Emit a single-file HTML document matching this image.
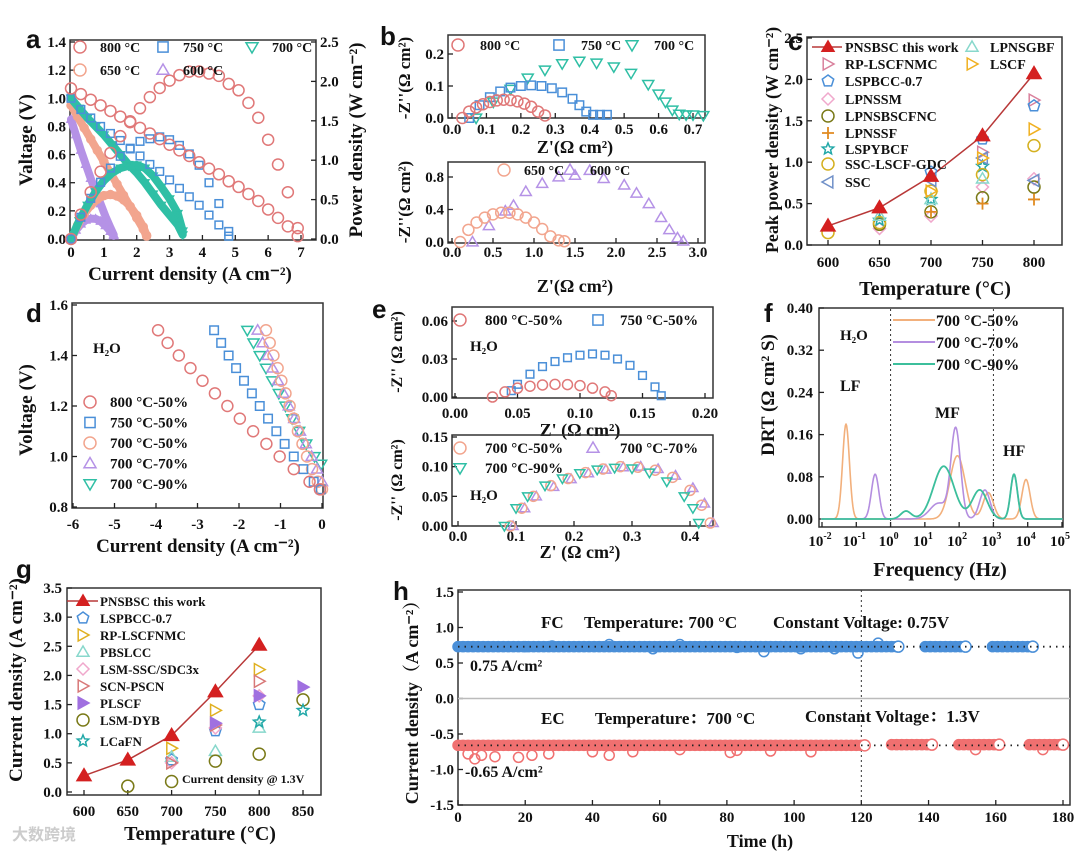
<!DOCTYPE html>
<html><head><meta charset="utf-8">
<style>
html,body{margin:0;padding:0;background:#fff;}
svg{display:block;font-family:"Liberation Serif",serif;font-weight:bold;}
</style></head>
<body>
<svg id="chart" width="1080" height="854" viewBox="0 0 1080 854" xmlns="http://www.w3.org/2000/svg"></svg>
<script>
// ---------- DATA ----------
// panel a
const aI800=[0,0.3,0.6,0.9,1.2,1.5,1.8,2.1,2.4,2.7,3.0,3.3,3.6,3.9,4.2,4.5,4.8,5.1,5.4,5.7,6.0,6.3,6.6,6.9];
const aV800=[1.07,1.03,0.99,0.95,0.91,0.87,0.83,0.79,0.75,0.71,0.67,0.63,0.59,0.545,0.5,0.46,0.41,0.37,0.32,0.27,0.21,0.15,0.09,0.02];
const aI750=[0,0.3,0.6,0.9,1.2,1.5,1.8,2.1,2.4,2.7,3.0,3.3,3.6,3.9,4.2,4.5,4.8];
const aV750=[1.0,0.92,0.86,0.8,0.75,0.7,0.64,0.59,0.53,0.48,0.42,0.36,0.3,0.24,0.17,0.1,0.02];
const aI700=[0,0.25,0.5,0.75,1.0,1.25,1.5,1.75,2.0,2.25,2.5,2.75,3.0,3.25,3.4];
const aV700=[1.0,0.93,0.86,0.8,0.74,0.67,0.6,0.53,0.47,0.4,0.32,0.24,0.17,0.1,0.03];
const aI650=[0,0.2,0.4,0.6,0.8,1.0,1.2,1.4,1.6,1.8,2.0,2.2,2.3];
const aV650=[0.95,0.87,0.79,0.71,0.63,0.55,0.47,0.39,0.31,0.23,0.15,0.07,0.02];
const aI600=[0,0.15,0.3,0.45,0.6,0.75,0.9,1.05,1.2,1.3];
const aV600=[0.85,0.74,0.63,0.53,0.43,0.34,0.25,0.16,0.08,0.03];
// panel b
const b800Re=[0.03,0.05,0.07,0.09,0.11,0.13,0.15,0.17,0.19,0.21,0.23,0.25,0.27];
const b800Im=[0,0.02,0.033,0.043,0.05,0.055,0.057,0.056,0.052,0.045,0.035,0.02,0.008];
const b750Re=[0.05,0.08,0.11,0.14,0.17,0.2,0.23,0.26,0.29,0.32,0.35,0.37,0.39,0.41,0.43,0.45];
const b750Im=[0,0.04,0.065,0.083,0.095,0.1,0.102,0.1,0.093,0.08,0.06,0.04,0.02,0.01,0.01,0.01];
const b700Re=[0.07,0.12,0.17,0.22,0.27,0.32,0.37,0.42,0.47,0.52,0.57,0.6,0.62,0.64,0.66,0.68,0.7,0.73];
const b700Im=[0,0.05,0.09,0.125,0.15,0.17,0.178,0.172,0.16,0.14,0.105,0.075,0.05,0.025,0.012,0.01,0.01,0.008];
const b650Re=[0.1,0.2,0.3,0.4,0.5,0.6,0.7,0.8,0.9,1.0,1.1,1.2,1.3,1.37];
const b650Im=[0,0.15,0.24,0.3,0.34,0.36,0.36,0.34,0.3,0.24,0.16,0.07,0.02,0.01];
const b600Re=[0.25,0.45,0.65,0.75,0.9,1.1,1.3,1.5,1.68,1.85,2.1,2.25,2.4,2.55,2.65,2.75,2.82];
const b600Im=[0,0.2,0.38,0.45,0.62,0.72,0.8,0.82,0.88,0.78,0.7,0.6,0.47,0.3,0.15,0.05,0.01];
// panel c
const cTemps=[600,650,700,750,800];
const cPNSBSC=[0.23,0.45,0.83,1.32,2.07];
const cRPT=[750,800], cRPV=[1.12,1.75];
const cLSPBCCT=[700,750,800], cLSPBCCV=[0.88,1.28,1.68];
const cLPNSSMT=[650,700,750,800], cLPNSSMV=[0.2,0.35,0.7,0.8];
const cLPNSBT=[650,700,750,800], cLPNSBV=[0.25,0.4,0.57,0.7];
const cLPNSSFT=[700,750,800], cLPNSSFV=[0.4,0.5,0.55];
const cLSPYT=[650,700,750], cLSPYV=[0.3,0.55,0.95];
const cSSCLT=[600,650,700,750,800], cSSCLV=[0.15,0.27,0.65,0.85,1.2];
const cSSCT=[700,750,800], cSSCV=[0.78,1.05,0.78];
const cGBFT=[650,700,750], cGBFV=[0.35,0.55,0.8];
const cLSCFT=[700,750,800], cLSCFV=[0.65,1.05,1.4];
// panel d
const dV=[1.5,1.45,1.4,1.35,1.3,1.25,1.2,1.15,1.1,1.05,1.0,0.95,0.9,0.87];
const dI800=[-3.95,-3.72,-3.45,-3.17,-2.88,-2.58,-2.28,-1.98,-1.66,-1.34,-1.02,-0.68,-0.3,-0.05];
const dI750=[-2.6,-2.43,-2.25,-2.07,-1.88,-1.69,-1.5,-1.3,-1.1,-0.9,-0.68,-0.45,-0.2,-0.03];
const dI700a=[-1.35,-1.26,-1.17,-1.07,-0.98,-0.88,-0.78,-0.68,-0.58,-0.47,-0.36,-0.24,-0.1,0];
const dV70=[1.5,1.45,1.4,1.35,1.3,1.25,1.2,1.15,1.1,1.05,1.0,0.95,0.9];
const dI700b=[-1.55,-1.43,-1.31,-1.19,-1.06,-0.93,-0.8,-0.67,-0.53,-0.39,-0.25,-0.12,0];
const dV90=[1.5,1.45,1.4,1.35,1.3,1.25,1.2,1.15,1.1,1.05,1.0,0.97];
const dI700c=[-1.8,-1.65,-1.5,-1.35,-1.2,-1.04,-0.88,-0.72,-0.55,-0.38,-0.18,-0.02];
// panel e
const e800Re=[0.03,0.04,0.05,0.06,0.07,0.08,0.09,0.1,0.11,0.12,0.125];
const e800Im=[0,0.004,0.007,0.0085,0.0095,0.01,0.0098,0.009,0.007,0.004,0.001];
const e750Re=[0.045,0.05,0.06,0.07,0.08,0.09,0.1,0.11,0.12,0.13,0.14,0.15,0.16,0.165];
const e750Im=[0.005,0.01,0.018,0.024,0.028,0.031,0.033,0.034,0.033,0.03,0.025,0.017,0.008,0.001];
const e50Re=[0.09,0.11,0.13,0.16,0.19,0.22,0.25,0.28,0.31,0.34,0.37,0.4,0.42,0.435];
const e50Im=[0,0.03,0.05,0.068,0.08,0.09,0.096,0.1,0.099,0.094,0.082,0.06,0.035,0.005];
const e70Re=[0.095,0.115,0.135,0.165,0.195,0.225,0.255,0.285,0.315,0.345,0.375,0.405,0.425,0.44];
const e70Im=[0,0.03,0.05,0.066,0.079,0.089,0.095,0.099,0.1,0.096,0.085,0.064,0.038,0.005];
const e90Re=[0.08,0.1,0.12,0.15,0.18,0.21,0.24,0.27,0.3,0.33,0.36,0.39,0.405,0.415];
const e90Im=[0,0.03,0.05,0.068,0.08,0.089,0.095,0.098,0.097,0.09,0.075,0.05,0.03,0.005];
// panel f (DRT peaks: log10 centre, height, width)
const f50C=[-1.3,1.95,2.85,3.95], f50H=[0.18,0.12,0.05,0.075], f50W=[0.1,0.22,0.15,0.12];
const f70C=[-0.45,1.9,1.4,2.75,3.6], f70H=[0.085,0.17,0.03,0.055,0.085], f70W=[0.11,0.14,0.25,0.15,0.1];
const f90C=[0.45,1.55,2.6,3.6], f90H=[0.015,0.1,0.055,0.085], f90W=[0.15,0.3,0.22,0.1];
// panel g
const gTemps=[600,650,700,750,800];
const gPNSBSC=[0.28,0.55,0.97,1.72,2.52];
const gLSPBT=[700,750,800], gLSPBV=[0.55,1.05,1.5];
const gRPT=[700,750,800], gRPV=[0.75,1.4,2.1];
const gPBST=[700,750,800], gPBSV=[0.6,0.7,1.1];
const gLSMT=[700,750,800], gLSMV=[0.5,1.1,1.65];
const gSCNT=[700,750,800], gSCNV=[0.5,1.15,1.9];
const gPLST=[750,800,850], gPLSV=[1.18,1.65,1.8];
const gDYBT=[650,700,750,800,850], gDYBV=[0.1,0.18,0.53,0.65,1.58];
const gLCaT=[800,850], gLCaV=[1.2,1.4];
// panel h
const hFcStart=[0,139,159], hFcEnd=[131,151,171], hFcLevel=[0.73,0.73,0.73];
const hEcStart=[0,129,149,170], hEcEnd=[121,141,161,180], hEcLevel=[-0.66,-0.65,-0.65,-0.65];
const hFcOutT=[20,28,45,58,66,83,91,102,112,119,125], hFcOutV=[0.73,0.74,0.76,0.7,0.76,0.72,0.66,0.7,0.7,0.64,0.78];
const hEcOutT=[3,5,7,11,18,22,27,40,45,52,66,81,83,93,105,154,174], hEcOutV=[-0.78,-0.85,-0.8,-0.82,-0.83,-0.8,-0.78,-0.75,-0.8,-0.75,-0.72,-0.76,-0.73,-0.74,-0.75,-0.72,-0.72];

// ---------- HELPERS ----------
const NS='http://www.w3.org/2000/svg';
const svg=document.getElementById('chart');
function add(tag,attrs,parent){const e=document.createElementNS(NS,tag);for(const k in attrs)e.setAttribute(k,attrs[k]);(parent||svg).appendChild(e);return e;}
function lin(d0,d1,p0,p1){return v=>p0+(v-d0)/(d1-d0)*(p1-p0);}
function grp(name){const g=add('g',{});


return g;}
function txt(x,y,s,size,anchor,parent,name,rot,fam){
const t=add('text',{x:x,y:y,'font-size':size,'text-anchor':anchor||'start',fill:'#111'},parent);
if(rot)t.setAttribute('transform','rotate(-90 '+x+' '+y+')');
if(fam)t.setAttribute('font-family',fam);
t.textContent=s;


return t;}
function frame(x0,y0,x1,y1,g){const r=add('rect',{x:x0,y:y0,width:x1-x0,height:y1-y0,fill:'none',stroke:'#333','stroke-width':1.5},g);

}
function ticksX(vals,labels,sx,yb,ly,g,size){vals.forEach((v,i)=>{add('line',{x1:sx(v),x2:sx(v),y1:yb,y2:yb-5,stroke:'#222','stroke-width':1.3},g);
if(labels[i]!==null)txt(sx(v),ly,labels[i],size||15,'middle',g,'x-tick-label');});}
function ticksY(vals,labels,sy,xb,lx,g,right,size){vals.forEach((v,i)=>{add('line',{x1:xb,x2:right?xb-5:xb+5,y1:sy(v),y2:sy(v),stroke:'#222','stroke-width':1.3},g);
txt(lx,sy(v)+5,labels[i],size||15,right?'start':'end',g,'y-tick-label');});}
function marker(shape,x,y,color,s,g,filled){
let e;const st={fill:filled?color:'none',stroke:color,'stroke-width':1.5};
if(shape==='circle')e=add('circle',Object.assign({cx:x,cy:y,r:s},st),g);
else if(shape==='square')e=add('rect',Object.assign({x:x-s*0.85,y:y-s*0.85,width:s*1.7,height:s*1.7},st),g);
else{let p=[];
if(shape==='tdown')p=[[x-s,y-s*0.7],[x+s,y-s*0.7],[x,y+s]];
else if(shape==='tup')p=[[x-s,y+s*0.7],[x+s,y+s*0.7],[x,y-s]];
else if(shape==='tright')p=[[x-s*0.8,y-s],[x+s,y],[x-s*0.8,y+s]];
else if(shape==='tleft')p=[[x+s*0.8,y-s],[x-s,y],[x+s*0.8,y+s]];
else if(shape==='diamond')p=[[x,y-s],[x+s,y],[x,y+s],[x-s,y]];
else if(shape==='pent'){for(let k=0;k<5;k++){const a=-Math.PI/2+k*2*Math.PI/5;p.push([x+s*Math.cos(a),y+s*Math.sin(a)]);}}
else if(shape==='star'){for(let k=0;k<10;k++){const a=-Math.PI/2+k*Math.PI/5;const r=k%2?s*0.45:s;p.push([x+r*Math.cos(a),y+r*Math.sin(a)]);}}
if(shape==='plus'){e=add('path',{d:`M${x-s} ${y}H${x+s}M${x} ${y-s}V${y+s}`,stroke:color,'stroke-width':1.8,fill:'none'},g);}
else e=add('polygon',Object.assign({points:p.map(q=>q.join(',')).join(' ')},st),g);}


return e;}
function series(xs,ys,sx,sy,shape,color,s,g,filled){xs.forEach((v,i)=>marker(shape,sx(v),sy(ys[i]),color,s,g,filled));}
function poly(xs,ys,sx,sy,color,w,g,dash,op){const l=add('polyline',{points:xs.map((v,i)=>sx(v)+','+sy(ys[i])).join(' '),fill:'none',stroke:color,'stroke-width':w,'stroke-linejoin':'round','stroke-linecap':'round'},g);
if(dash)l.setAttribute('stroke-dasharray',dash);if(op)l.setAttribute('opacity',op);

return l;}
function letter(x,y,s){txt(x,y,s,26,'start',svg,'panel-label-'+s,false,'"Liberation Sans",sans-serif');}
function rng(a,b,st){const r=[];for(let v=a;v<=b+1e-9;v+=st)r.push(+v.toFixed(4));return r;}
const C={r:'#e07878',b:'#4a8fd8',t:'#2fbfa5',s:'#f2a58e',p:'#b592e6'};

// ---------- PANEL A ----------
(function(){const g=grp('panel-a');
const sx=lin(0,7,71,301),sv=lin(0,1.4,239,42),sp=lin(0,2.5,239,42);
frame(70,40,316,240,g);
ticksX(rng(0,7,1),rng(0,7,1).map(String),sx,240,257,g);
ticksY(rng(0,1.4,0.2),rng(0,1.4,0.2).map(v=>v.toFixed(1)),sv,70,66,g);
ticksY(rng(0,2.5,0.5),rng(0,2.5,0.5).map(v=>v.toFixed(1)),sp,316,320,g,true);
const pw=(I,V)=>I.map((x,i)=>x*V[i]);
[[aI600,aV600,C.p,'tup'],[aI650,aV650,C.s,'circle'],[aI700,aV700,C.t,'tdown']].forEach(a=>{
 poly(a[0],a[1],sx,sv,a[2],8,g);poly(a[0],pw(a[0],a[1]),sx,sp,a[2],8,g);
 series(a[0],a[1],sx,sv,a[3],a[2],4,g);series(a[0],pw(a[0],a[1]),sx,sp,a[3],a[2],4,g);});
series(aI750,aV750,sx,sv,'square',C.b,4.5,g);series(aI750,pw(aI750,aV750),sx,sp,'square',C.b,4.5,g);
series(aI800,aV800,sx,sv,'circle',C.r,5.5,g);series(aI800,pw(aI800,aV800),sx,sp,'circle',C.r,5.5,g);
txt(32,140,'Valtage (V)',19,'middle',g,'y-axis-title',true);
txt(362,140,'Power density (W cm⁻²)',19,'middle',g,'y2-axis-title',true);
txt(190,280,'Current density (A cm⁻²)',19,'middle',g,'x-axis-title');
[[80,47,'circle',C.r,'800 °C'],[163,47,'square',C.b,'750 °C'],[252,47,'tdown',C.t,'700 °C'],[80,70,'circle',C.s,'650 °C'],[163,70,'tup',C.p,'600 °C']].forEach(l=>{marker(l[2],l[0],l[1],l[3],6,g);txt(l[0]+20,l[1]+5,l[4],14,'start',g,'legend-entry');});
})();
letter(26,48,'a');

// ---------- PANEL B ----------
(function(){const g=grp('panel-b-top');
const sx=lin(0,0.7,452,693),sy=lin(0,0.2,118,54);
frame(448,35,705,118,g);
ticksX(rng(0,0.7,0.1),rng(0,0.7,0.1).map(v=>v.toFixed(1)),sx,118,134,g);
ticksY([0,0.1,0.2],['0.0','0.1','0.2'],sy,448,444,g);
series(b700Re,b700Im,sx,sy,'tdown',C.t,5.5,g);
series(b750Re,b750Im,sx,sy,'square',C.b,5,g);
series(b800Re,b800Im,sx,sy,'circle',C.r,5.5,g);
txt(575,153,"Z'(Ω cm²)",18,'middle',g,'x-axis-title');
txt(410,78,"-Z''(Ω cm²)",17,'middle',g,'y-axis-title',true);
[[458,45,'circle',C.r,'800 °C'],[559,45,'square',C.b,'750 °C'],[632,45,'tdown',C.t,'700 °C']].forEach(l=>{marker(l[2],l[0],l[1],l[3],6,g);txt(l[0]+22,l[1]+5,l[4],14,'start',g,'legend-entry');});
const g2=grp('panel-b-bottom');
const sx2=lin(0,3,452,698),sy2=lin(0,0.8,242,177);
frame(448,162,705,243,g2);
ticksX(rng(0,3,0.5),rng(0,3,0.5).map(v=>v.toFixed(1)),sx2,243,257,g2);
ticksY([0,0.4,0.8],['0.0','0.4','0.8'],sy2,448,444,g2);
series(b600Re,b600Im,sx2,sy2,'tup',C.p,5.5,g2);
series(b650Re,b650Im,sx2,sy2,'circle',C.s,5.5,g2);
txt(575,292,"Z'(Ω cm²)",18,'middle',g2,'x-axis-title');
txt(410,202,"-Z''(Ω cm²)",17,'middle',g2,'y-axis-title',true);
[[504,170,'circle',C.s,'650 °C'],[570,170,'tup',C.p,'600 °C']].forEach(l=>{marker(l[2],l[0],l[1],l[3],6,g2);txt(l[0]+20,l[1]+5,l[4],14,'start',g2,'legend-entry');});
})();
letter(380,45,'b');

// ---------- PANEL C ----------
(function(){const g=grp('panel-c');
const sx=lin(600,800,828,1034),sy=lin(0,2.5,245,38);
frame(807,37,1062,245,g);
ticksX(cTemps,cTemps.map(String),sx,245,267,g);
ticksY(rng(0,2.5,0.5),rng(0,2.5,0.5).map(v=>v.toFixed(1)),sy,807,803,g);
poly(cTemps,cPNSBSC,sx,sy,'#b83838',1.5,g);
const S=[[cRPT,cRPV,'tright','#d9809c'],[cLSPBCCT,cLSPBCCV,'pent',C.b],[cLPNSSMT,cLPNSSMV,'diamond','#f0a8cc'],[cLPNSBT,cLPNSBV,'circle','#7a7a18'],[cLPNSSFT,cLPNSSFV,'plus','#e08a20'],[cLSPYT,cLSPYV,'star','#22a8a8'],[cSSCLT,cSSCLV,'circle','#d4b020'],[cSSCT,cSSCV,'tleft','#7090c8'],[cGBFT,cGBFV,'tup','#88d8cc'],[cLSCFT,cLSCFV,'tright','#f0b020']];
S.forEach(s=>series(s[0],s[1],sx,sy,s[2],s[3],6,g));
series(cTemps,cPNSBSC,sx,sy,'tup','#d42020',7,g,true);
txt(935,295,'Temperature (°C)',20,'middle',g,'x-axis-title');
txt(778,140,'Peak power density (W cm⁻²)',18,'middle',g,'y-axis-title',true);
const L=[['PNSBSC this work','tup','#d42020',true],['RP-LSCFNMC','tright','#d9809c'],['LSPBCC-0.7','pent',C.b],['LPNSSM','diamond','#f0a8cc'],['LPNSBSCFNC','circle','#7a7a18'],['LPNSSF','plus','#e08a20'],['LSPYBCF','star','#22a8a8'],['SSC-LSCF-GDC','circle','#d4b020'],['SSC','tleft','#7090c8']];
const ly=[47,64,81,99,116,133,149,164,182];
add('line',{x1:812,x2:842,y1:47,y2:47,stroke:'#b83838','stroke-width':1.5},g);
L.forEach((l,i)=>{const y=ly[i];marker(l[1],828,y,l[2],6,g,l[3]);txt(845,y+5,l[0],14,'start',g,'legend-entry');});
marker('tup',972,47,'#88d8cc',6,g);txt(990,52,'LPNSGBF',14,'start',g,'legend-entry');
marker('tright',972,64,'#f0b020',6,g);txt(990,69,'LSCF',14,'start',g,'legend-entry');
})();
letter(788,50,'c');

// ---------- PANEL D ----------
(function(){const g=grp('panel-d');
const sx=lin(-6,0,73,322),sy=lin(0.8,1.6,507,305);
frame(72,303,323,508,g);
ticksX(rng(-6,0,1),rng(-6,0,1).map(String),sx,508,529,g);
ticksY(rng(0.8,1.6,0.2),rng(0.8,1.6,0.2).map(v=>v.toFixed(1)),sy,72,68,g);
series(dI700c,dV90,sx,sy,'tdown',C.t,5.5,g);
series(dI700b,dV70,sx,sy,'tup',C.p,5.5,g);
series(dI700a,dV,sx,sy,'circle',C.s,5.5,g);
series(dI750,dV,sx,sy,'square',C.b,5,g);
series(dI800,dV,sx,sy,'circle',C.r,5.5,g);
txt(198,552,'Current density (A cm⁻²)',19,'middle',g,'x-axis-title');
txt(32,410,'Voltage (V)',19,'middle',g,'y-axis-title',true);
txt(93,353,'H₂O',15,'start',g,'annotation');
[['800 °C-50%','circle',C.r],['750 °C-50%','square',C.b],['700 °C-50%','circle',C.s],['700 °C-70%','tup',C.p],['700 °C-90%','tdown',C.t]].forEach((l,i)=>{const y=402+i*20.5;marker(l[1],90,y,l[2],6,g);txt(110,y+5,l[0],15,'start',g,'legend-entry');});
})();
letter(26,322,'d');

// ---------- PANEL E ----------
(function(){const g=grp('panel-e-top');
const sx=lin(0,0.2,455,705),sy=lin(0,0.06,397,321);
frame(452,307,713,398,g);
ticksX(rng(0,0.2,0.05),rng(0,0.2,0.05).map(v=>v.toFixed(2)),sx,398,418,g);
ticksY([0,0.03,0.06],['0.00','0.03','0.06'],sy,452,448,g);
series(e750Re,e750Im,sx,sy,'square',C.b,4.5,g);
series(e800Re,e800Im,sx,sy,'circle',C.r,5,g);
txt(580,436,"Z' (Ω cm²)",18,'middle',g,'x-axis-title');
txt(402,352,"-Z'' (Ω cm²)",16,'middle',g,'y-axis-title',true);
txt(470,351,'H₂O',15,'start',g,'annotation');
marker('circle',460,320,C.r,6,g);txt(485,325,'800 °C-50%',15,'start',g,'legend-entry');
marker('square',598,320,C.b,6,g);txt(620,325,'750 °C-50%',15,'start',g,'legend-entry');
const g2=grp('panel-e-bottom');
const sx2=lin(0,0.4,458,690),sy2=lin(0,0.15,526,437);
frame(452,435,713,526,g2);
ticksX(rng(0,0.4,0.1),rng(0,0.4,0.1).map(v=>v.toFixed(1)),sx2,526,541,g2);
ticksY([0,0.05,0.1,0.15],['0.00','0.05','0.10','0.15'],sy2,452,448,g2);
series(e70Re,e70Im,sx2,sy2,'tup',C.p,5,g2);
series(e50Re,e50Im,sx2,sy2,'circle',C.s,5,g2);
series(e90Re,e90Im,sx2,sy2,'tdown',C.t,5,g2);
txt(580,558,"Z' (Ω cm²)",18,'middle',g2,'x-axis-title');
txt(402,480,"-Z'' (Ω cm²)",16,'middle',g2,'y-axis-title',true);
txt(470,500,'H₂O',15,'start',g2,'annotation');
marker('circle',460,448,C.s,6,g2);txt(485,453,'700 °C-50%',15,'start',g2,'legend-entry');
marker('tup',593,448,C.p,6,g2);txt(620,453,'700 °C-70%',15,'start',g2,'legend-entry');
marker('tdown',460,468,C.t,6,g2);txt(485,473,'700 °C-90%',15,'start',g2,'legend-entry');
})();
letter(372,318,'e');

// ---------- PANEL F ----------
(function(){const g=grp('panel-f');
const lf=lin(-2,5,822,1062),sy=lin(0,0.4,519,308);
frame(819,308,1063,527,g);
const xt=rng(-2,5,1);
xt.forEach(v=>add('line',{x1:lf(v),x2:lf(v),y1:527,y2:522,stroke:'#222','stroke-width':1.3},g));
xt.forEach(v=>{const t=add('text',{x:lf(v)-2,y:546,'font-size':15,'text-anchor':'middle',fill:'#111'},g);


t.appendChild(document.createTextNode('10'));const s=add('tspan',{'font-size':10,dy:-7},t);s.textContent=String(v);});
ticksY(rng(0,0.4,0.08),rng(0,0.4,0.08).map(v=>v.toFixed(2)),sy,819,813,g);
[0,3].forEach(v=>add('line',{x1:lf(v),x2:lf(v),y1:309,y2:526,stroke:'#333','stroke-width':1,'stroke-dasharray':'2,3'},g));
const grid=rng(-2,5,0.02);
const drt=(c,h,w)=>grid.map(x=>{let s=0;c.forEach((cc,i)=>{s+=h[i]*Math.exp(-0.5*Math.pow((x-cc)/w[i],2));});return s;});
poly(grid,drt(f50C,f50H,f50W),lf,sy,'#f2b07c',1.6,g);
poly(grid,drt(f70C,f70H,f70W),lf,sy,'#b48ee0',1.6,g);
poly(grid,drt(f90C,f90H,f90W),lf,sy,'#3cbf9c',1.8,g);
txt(940,576,'Frequency (Hz)',20,'middle',g,'x-axis-title');
txt(774,395,'DRT (Ω cm² S)',19,'middle',g,'y-axis-title',true);
txt(840,340,'H₂O',15,'start',g,'annotation');
txt(840,391,'LF',16,'start',g,'annotation');
txt(935,418,'MF',16,'start',g,'annotation');
txt(1003,456,'HF',16,'start',g,'annotation');
[['700 °C-50%','#f2b07c'],['700 °C-70%','#b48ee0'],['700 °C-90%','#3cbf9c']].forEach((l,i)=>{const y=320+i*22;add('line',{x1:893,x2:935,y1:y,y2:y,stroke:l[1],'stroke-width':2},g);txt(936,y+6,l[0],16,'start',g,'legend-entry');});
})();
letter(764,322,'f');

// ---------- PANEL G ----------
(function(){const g=grp('panel-g');
const sx=lin(600,850,84,303),sy=lin(0,3.5,792,588);
frame(67,588,321,795,g);
ticksX(rng(600,850,50),rng(600,850,50).map(String),sx,795,816,g);
ticksY(rng(0,3.5,0.5),rng(0,3.5,0.5).map(v=>v.toFixed(1)),sy,67,62,g);
poly(gTemps,gPNSBSC,sx,sy,'#b83838',1.5,g);
const S=[[gLSPBT,gLSPBV,'pent',C.b],[gRPT,gRPV,'tright','#e0b020'],[gPBST,gPBSV,'tup','#88d8cc'],[gLSMT,gLSMV,'diamond','#f0a8cc'],[gSCNT,gSCNV,'tright','#d87878'],[gPLST,gPLSV,'tright','#a070e0',true],[gDYBT,gDYBV,'circle','#7a7a18'],[gLCaT,gLCaV,'star','#22a8a8']];
S.forEach(s=>series(s[0],s[1],sx,sy,s[2],s[3],6,g,s[4]));
series(gTemps,gPNSBSC,sx,sy,'tup','#d42020',7,g,true);
txt(200,840,'Temperature (°C)',20,'middle',g,'x-axis-title');
txt(22,680,'Current density (A cm⁻²)',19,'middle',g,'y-axis-title',true);
txt(182,783,'Current density @ 1.3V',12,'start',g,'annotation');
const L=[['PNSBSC this work','tup','#d42020',true],['LSPBCC-0.7','pent',C.b],['RP-LSCFNMC','tright','#e0b020'],['PBSLCC','tup','#88d8cc'],['LSM-SSC/SDC3x','diamond','#f0a8cc'],['SCN-PSCN','tright','#d87878'],['PLSCF','tright','#a070e0',true],['LSM-DYB','circle','#7a7a18'],['LCaFN','star','#22a8a8']];
const ly=[601,618,635,652,669,686,703,720,741];
add('line',{x1:67,x2:98,y1:601,y2:601,stroke:'#b83838','stroke-width':1.5},g);
L.forEach((l,i)=>{const y=ly[i];marker(l[1],83,y,l[2],6,g,l[3]);txt(100,y+5,l[0],13,'start',g,'legend-entry');});
})();
letter(16,578,'g');

// ---------- PANEL H ----------
(function(){const g=grp('panel-h');
const sx=lin(0,180,458,1063),sy=lin(-1.5,1.5,805,592);
frame(458,590,1070,805,g);
ticksX(rng(0,180,20),rng(0,180,20).map(String),sx,805,822,g);
ticksY(rng(-1.5,1.5,0.5),rng(-1.5,1.5,0.5).map(v=>v.toFixed(1)),sy,458,454,g);
add('line',{x1:458,x2:1070,y1:sy(0),y2:sy(0),stroke:'#bbb','stroke-width':1.5},g);
add('line',{x1:sx(120),x2:sx(120),y1:590,y2:805,stroke:'#333','stroke-width':1,'stroke-dasharray':'2,3'},g);
hFcStart.forEach((s,i)=>{poly([s,hFcEnd[i]],[hFcLevel[i],hFcLevel[i]],sx,sy,'#4a8fd8',11,g);
 for(let t=s;t<=hFcEnd[i];t+=1.5)marker('circle',sx(t),sy(hFcLevel[i]),'#4a8fd8',5,g);
 marker('circle',sx(hFcEnd[i]),sy(hFcLevel[i]),'#4a8fd8',5.5,g).setAttribute('fill','#fff');});
hEcStart.forEach((s,i)=>{poly([s,hEcEnd[i]],[hEcLevel[i],hEcLevel[i]],sx,sy,'#f07070',11,g);
 for(let t=s;t<=hEcEnd[i];t+=1.5)marker('circle',sx(t),sy(hEcLevel[i]),'#f07070',5,g);
 marker('circle',sx(hEcEnd[i]),sy(hEcLevel[i]),'#f07070',5.5,g).setAttribute('fill','#fff');});
series(hFcOutT,hFcOutV,sx,sy,'circle','#4a8fd8',5,g);
series(hEcOutT,hEcOutV,sx,sy,'circle','#f07070',5,g);
add('line',{x1:458,x2:1070,y1:sy(0.73),y2:sy(0.73),stroke:'#222','stroke-width':1.8,'stroke-dasharray':'1.5,5'},g);
add('line',{x1:458,x2:1070,y1:sy(-0.66),y2:sy(-0.66),stroke:'#222','stroke-width':1.8,'stroke-dasharray':'1.5,5'},g);
txt(541,628,'FC',17,'start',g,'annotation');
txt(584,628,'Temperature: 700 °C',17,'start',g,'annotation');
txt(773,628,'Constant Voltage: 0.75V',17,'start',g,'annotation');
txt(470,671,'0.75 A/cm²',16,'start',g,'annotation');
txt(541,724,'EC',17,'start',g,'annotation');
txt(595,724,'Temperature：700 °C',17,'start',g,'annotation',false,'"Liberation Serif","Noto Serif CJK SC",serif');
txt(805,722,'Constant Voltage：1.3V',17,'start',g,'annotation',false,'"Liberation Serif","Noto Serif CJK SC",serif');
txt(465,777,'-0.65 A/cm²',16,'start',g,'annotation');
txt(760,847,'Time (h)',18,'middle',g,'x-axis-title');
txt(418,698,'Current density（A cm⁻²）',18,'middle',g,'y-axis-title',true,'"Liberation Serif","Noto Serif CJK SC",serif');
})();
letter(393,600,'h');
txt(12,840,'大数跨境',16,'start',svg,'watermark',false,'"Liberation Sans","Noto Sans CJK SC",sans-serif').setAttribute('fill','#ccc');
</script>
</body></html>
